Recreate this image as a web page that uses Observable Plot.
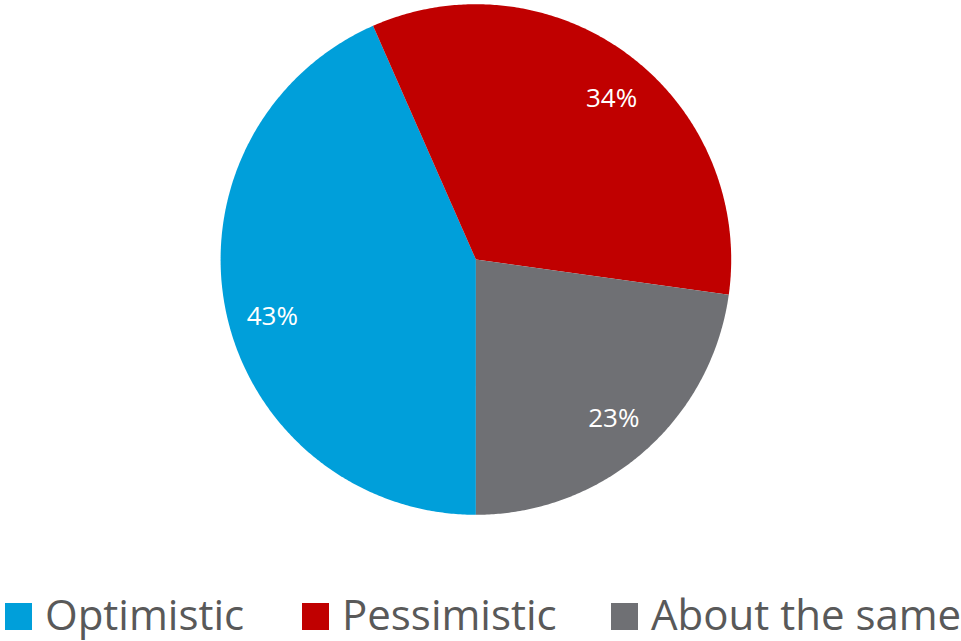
<!DOCTYPE html>
<html>
<head>
<meta charset="utf-8">
<script src="https://cdn.jsdelivr.net/npm/d3@7"></script>
<script src="https://cdn.jsdelivr.net/npm/@observablehq/plot@0.6"></script>
<style>
  html, body { margin: 0; padding: 0; background: #fff; overflow: hidden; }
  #chart svg { display: block; }
  #legend { position: relative; height: 55px; font-family: "Open Sans", sans-serif; font-size: 42px; color: #595959; }
  .item { position: absolute; top: 0px; line-height: 56px; white-space: nowrap; }
  .sw { position: absolute; width: 27px; height: 27px; }
</style>
</head>
<body>
<div id="chart"></div>
<div id="legend"></div>
<script>
// Data
const categories = ["Optimistic", "Pessimistic", "About the same"];
const values = [43.4, 33.8, 22.8];
const labels = ["43%", "34%", "23%"];
const colors = ["#009FDA", "#C00000", "#6F7074"];

const W = 961, H = 586;
const cx = 475.4, cy = 259, R = 255.3;

const table = categories.map((c, i) => ({name: c, value: values[i], label: labels[i]}));
const arcs = d3.pie().sort(null).value(d => d.value)
  .startAngle(Math.PI).endAngle(3 * Math.PI)(table);

// polygon vertices for each slice (unit radius, y up)
const pts = [];
for (const a of arcs) {
  pts.push({name: a.data.name, x: 0, y: 0});
  const n = Math.max(2, Math.ceil((a.endAngle - a.startAngle) / (Math.PI / 360)));
  for (let k = 0; k <= n; k++) {
    const t = a.startAngle + (a.endAngle - a.startAngle) * k / n;
    pts.push({name: a.data.name, x: Math.sin(t), y: Math.cos(t)});
  }
}
const labelPts = arcs.map(a => {
  const m = (a.startAngle + a.endAngle) / 2;
  return {name: a.data.name, label: a.data.label, x: 0.823 * Math.sin(m), y: 0.823 * Math.cos(m)};
});
// small per-label nudges to mimic the original's best-fit label placement
const nudges = [[2, 14], [9, 7], [0, 1]];

const chart = Plot.plot({
  width: W, height: H,
  marginLeft: cx - R, marginRight: W - cx - R,
  marginTop: cy - R, marginBottom: H - cy - R,
  x: {domain: [-1, 1], axis: null},
  y: {domain: [-1, 1], axis: null},
  color: {domain: categories, range: colors},
  marks: [
    Plot.line(pts, {x: "x", y: "y", z: "name", fill: "name", stroke: "none", curve: "linear-closed"}),
    ...labelPts.map((d, i) => Plot.text([d], {x: "x", y: "y", text: "label", fill: "white", fontSize: 26,
      fontFamily: "Open Sans, sans-serif", dx: nudges[i][0], dy: nudges[i][1]}))
  ]
});
document.getElementById("chart").appendChild(chart);

// Legend
const legend = document.getElementById("legend");
const lefts = [5, 302, 611];
categories.forEach((c, i) => {
  const item = document.createElement("div");
  item.className = "item";
  item.style.left = lefts[i] + "px";
  const sw = document.createElement("span");
  sw.className = "sw";
  sw.style.background = colors[i];
  sw.style.left = "0px";
  sw.style.top = "17px";
  const tx = document.createElement("span");
  tx.textContent = c;
  tx.style.marginLeft = "40px";
  item.appendChild(sw);
  item.appendChild(tx);
  legend.appendChild(item);
});
</script>
</body>
</html>
